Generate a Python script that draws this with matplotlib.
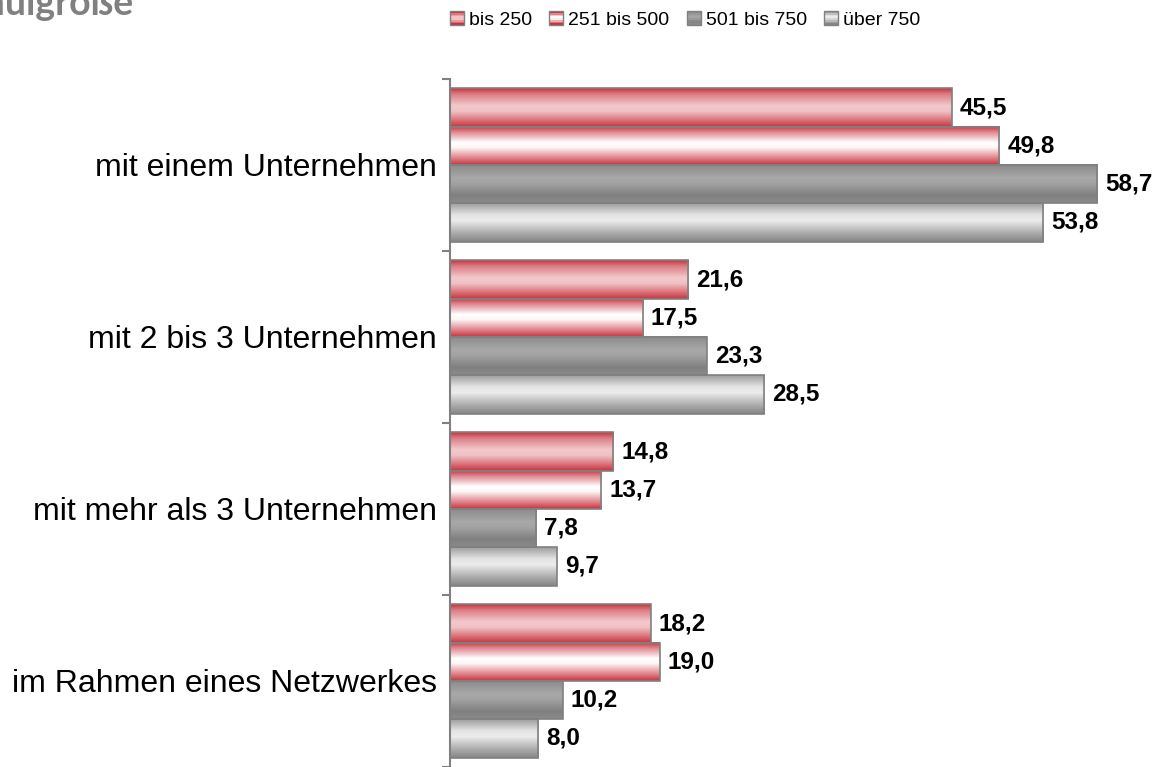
import numpy as np
import matplotlib
matplotlib.use("Agg")
import matplotlib.pyplot as plt
from matplotlib.colors import to_rgb
from matplotlib.patches import Rectangle
from matplotlib.legend_handler import HandlerBase

# data
categories = ["mit einem Unternehmen", "mit 2 bis 3 Unternehmen",
              "mit mehr als 3 Unternehmen", "im Rahmen eines Netzwerkes"]
series = ["bis 250", "251 bis 500", "501 bis 750", "über 750"]
bis_250 = [45.5, 21.6, 14.8, 18.2]
bis_500 = [49.8, 17.5, 13.7, 19.0]
bis_750 = [58.7, 23.3, 7.8, 10.2]
ueber_750 = [53.8, 28.5, 9.7, 8.0]
values = [bis_250, bis_500, bis_750, ueber_750]

# gradient stops (top -> bottom) for each series
stops = [
    [(0.0, "#c8343e"), (0.15, "#dc7c84"), (0.45, "#f3c9cc"), (0.6, "#f0c0c4"), (0.85, "#d86a72"), (1.0, "#c8343e")],
    [(0.0, "#c8343e"), (0.15, "#e08890"), (0.42, "#ffffff"), (0.55, "#fdf6f6"), (0.85, "#dc767e"), (1.0, "#c8343e")],
    [(0.0, "#8a8a8a"), (0.35, "#a8a8a8"), (0.5, "#a2a2a2"), (0.8, "#808080"), (1.0, "#8a8a8a")],
    [(0.0, "#9e9e9e"), (0.3, "#e4e4e4"), (0.45, "#ececec"), (0.75, "#b0b0b0"), (1.0, "#858585")],
]


def gradient(st, n=64):
    t = np.linspace(0, 1, n)
    pos = [p for p, c in st]
    cols = np.array([to_rgb(c) for p, c in st])
    return np.stack([np.interp(t, pos, cols[:, k]) for k in range(3)], axis=1)


grads = [gradient(s) for s in stops]


class GradHandler(HandlerBase):
    def __init__(self, grad):
        super().__init__()
        self.grad = grad

    def create_artists(self, legend, orig_handle, xdescent, ydescent, width, height, fontsize, trans):
        arts = []
        n = 8
        g = gradient(stops[orig_handle.idx], n)
        for k in range(n):
            r = Rectangle((-xdescent, -ydescent + height * (1 - (k + 1) / n)), width, height / n,
                          facecolor=g[k], edgecolor="none", transform=trans)
            arts.append(r)
        arts.append(Rectangle((-xdescent, -ydescent), width, height, facecolor="none",
                              edgecolor="#808080", lw=1, transform=trans))
        return arts


fig = plt.figure(figsize=(11.55, 7.67), dpi=100)
ax = fig.add_axes([450 / 1155, 0.0, 1 - 450 / 1155, 688 / 767])

bw = 0.2225
y = np.arange(len(categories))
for j, vals in enumerate(values):
    bars = ax.barh(y + (j - 1.5) * bw, vals, height=bw, facecolor="none",
                   edgecolor="#808080", lw=1.2, zorder=3)
    for rect, v in zip(bars, vals):
        x0, y0, w, h = rect.get_x(), rect.get_y(), rect.get_width(), rect.get_height()
        ax.imshow(grads[j][:, None, :], extent=(x0, x0 + w, y0 + h, y0), aspect="auto",
                  interpolation="bilinear", zorder=2)
        ax.text(v + 0.72, y0 + h / 2, f"{v:.1f}".replace(".", ","), va="center", ha="left",
                fontsize=17.5, fontweight="bold", family="Liberation Sans", zorder=4)

ax.set_xlim(0, 705 / 11.03)
ax.set_ylim(len(categories) - 0.5, -0.5)
for s in ["top", "right", "bottom"]:
    ax.spines[s].set_visible(False)
ax.spines["left"].set_color("#808080")
ax.spines["left"].set_linewidth(1.5)
ax.set_xticks([])
ax.set_yticks(np.arange(len(categories) + 1) - 0.5)
ax.set_yticklabels([])
ax.tick_params(axis="y", which="major", length=6, width=1.5, color="#808080")
ax.set_yticks(y, minor=True)
ax.set_yticklabels(categories, minor=True, fontsize=23, family="Liberation Sans")
ax.tick_params(axis="y", which="minor", length=0, pad=9.5)

# legend
handles = []
for j in range(len(series)):
    r = Rectangle((0, 0), 1, 1)
    r.idx = j
    handles.append(r)
fig.legend(handles, series, loc="center", bbox_to_anchor=(685 / 1155, 1 - 20 / 767), ncol=4,
           frameon=False, prop={"family": "Liberation Sans", "size": 14},
           handler_map={h: GradHandler(None) for h in handles},
           handlelength=0.72, handleheight=0.72, handletextpad=0.25, columnspacing=0.9)

# cropped title
fig.text(133 / 1155, 1 - 15 / 767, "Schulgröße", ha="right", va="baseline", fontsize=27,
         fontweight="bold", color="#808080", family="Lato")

fig.savefig("out.png", dpi=100)
